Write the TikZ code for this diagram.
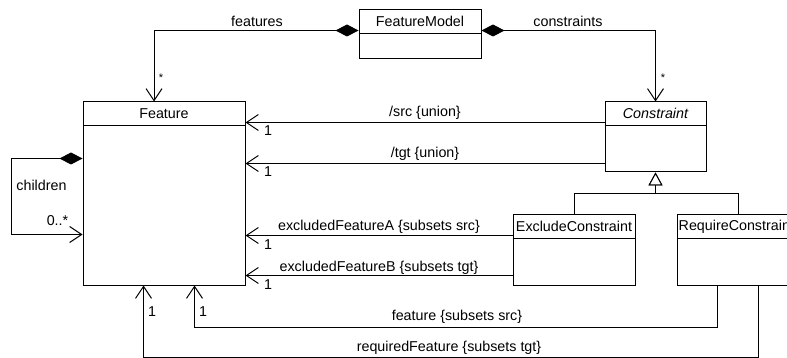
\documentclass[tikz,border=0pt]{standalone}
\usepackage{fontspec}
\setmainfont{Liberation Sans}
\usetikzlibrary{arrows.meta,calc}

\tikzset{
  classbox/.style={draw, line width=1pt, inner sep=0pt, fill=white},
  title/.style={inner sep=0pt, font=\fontsize{14.3}{17}\selectfont},
  lbl/.style={inner sep=0pt, font=\fontsize{14.3}{17}\selectfont},
  mult/.style={inner sep=0pt, font=\fontsize{14.3}{17}\selectfont},
  star/.style={inner sep=0pt, font=\fontsize{11}{13}\selectfont},
  conn/.style={line width=1pt},
  assoc/.style={conn, -{Straight Barb[length=12pt,width=16pt,line width=1pt]}},
  comp/.style={conn, {Diamond[length=23pt,width=12pt]}-{Straight Barb[length=12pt,width=16pt,line width=1pt]}},
  gen/.style={conn, -{Triangle[open,length=13pt,width=14pt,fill=white,line width=1pt]}},
}

\begin{document}
\begin{tikzpicture}[x=1pt,y=-1pt]
\useasboundingbox (0,0) rectangle (787,358);
\clip (0,0) rectangle (787,358);

% classes
\node[classbox, minimum width=122pt, minimum height=49pt] (fm) at (420,34.5) {};
\node[classbox, minimum width=162pt, minimum height=183pt] (feature) at (164,193.5) {};
\node[classbox, minimum width=101pt, minimum height=70pt] (constraint) at (655.5,137) {};
\node[classbox, minimum width=122pt, minimum height=70pt] (exclude) at (574,250) {};
\node[classbox, minimum width=122pt, minimum height=70pt] (require) at (738,250) {};

% header compartments
\draw[conn] ($(fm.north west)+(0,24)$) -- ($(fm.north east)+(0,24)$);
\draw[conn] ($(feature.north west)+(0,24)$) -- ($(feature.north east)+(0,24)$);
\draw[conn] ($(constraint.north west)+(0,24)$) -- ($(constraint.north east)+(0,24)$);
\draw[conn] ($(exclude.north west)+(0,24)$) -- ($(exclude.north east)+(0,24)$);
\draw[conn] ($(require.north west)+(0,24)$) -- ($(require.north east)+(0,24)$);

% class names
\node[title] (fmT) at ($(fm.north)+(0,12)$) {FeatureModel};
\node[title] (featureT) at ($(feature.north)+(0,12)$) {Feature};
\node[title] (constraintT) at ($(constraint.north)+(0,12)$) {\itshape Constraint};
\node[title] (excludeT) at ($(exclude.north)+(0,12)$) {ExcludeConstraint};
\node[title, anchor=west] (requireT) at ($(require.north west)+(2,12)$) {RequireConstraint};

% composition: FeatureModel owns features and constraints
\draw[comp] ($(fm.north west)+(0,21)$) -| ($(feature.north)+(-10,0)$);
\draw[comp] ($(fm.north east)+(0,21)$) -| (constraint.north);
\node[lbl] (lFeatures) at (257,21) {features};
\node[lbl] (lConstraints) at (568,21) {constraints};
\node[star] (mFeatures) at (161,78) {*};
\node[star] (mConstraints) at (663,78) {*};

% derived unions
\draw[assoc] ($(constraint.north west)+(0,21)$) coordinate (src1) -- (src1 -| feature.east);
\draw[assoc] ($(constraint.north west)+(0,62)$) coordinate (tgt1) -- (tgt1 -| feature.east);
\node[lbl] (lSrc) at (425,113) {/src \{union\}};
\node[lbl] (lTgt) at (425,154) {/tgt \{union\}};
\node[mult] (mSrc) at (268,131) {1};
\node[mult] (mTgt) at (268,172) {1};

% ExcludeConstraint ends
\draw[assoc] ($(exclude.north west)+(0,21)$) coordinate (exA) -- (exA -| feature.east);
\draw[assoc] ($(exclude.north west)+(0,61)$) coordinate (exB) -- (exB -| feature.east);
\node[lbl] (lExA) at (379,227) {excludedFeatureA \{subsets src\}};
\node[lbl] (lExB) at (379,268) {excludedFeatureB \{subsets tgt\}};
\node[mult] (mExA) at (268,245) {1};
\node[mult] (mExB) at (268,285) {1};

% RequireConstraint ends
\draw[assoc] ($(require.south west)+(41,0)$) -- ++(0,42) -| ($(feature.south west)+(112,0)$);
\draw[assoc] ($(require.south west)+(82,0)$) -- ++(0,71.5) -| ($(feature.south west)+(61,0)$);
\node[lbl] (lFeat) at (457,317) {feature \{subsets src\}};
\node[lbl] (lReq) at (449,348) {requiredFeature \{subsets tgt\}};
\node[mult] (mFeat) at (203,312) {1};
\node[mult] (mReq) at (152,312) {1};

% children self-composition
\draw[comp] ($(feature.north west)+(0,57)$) -- ++(-71,0) |- ($(feature.north west)+(0,133)$);
\node[lbl] (lChildren) at (41.5,185) {children};
\node[mult] (mChildren) at (57.5,221) {0..*};

% generalization
\draw[gen] (exclude.north) -- ++(0,-21) -| (constraint.south);
\draw[gen] (require.north) -- ++(0,-21) -| (constraint.south);
\end{tikzpicture}
\end{document}
